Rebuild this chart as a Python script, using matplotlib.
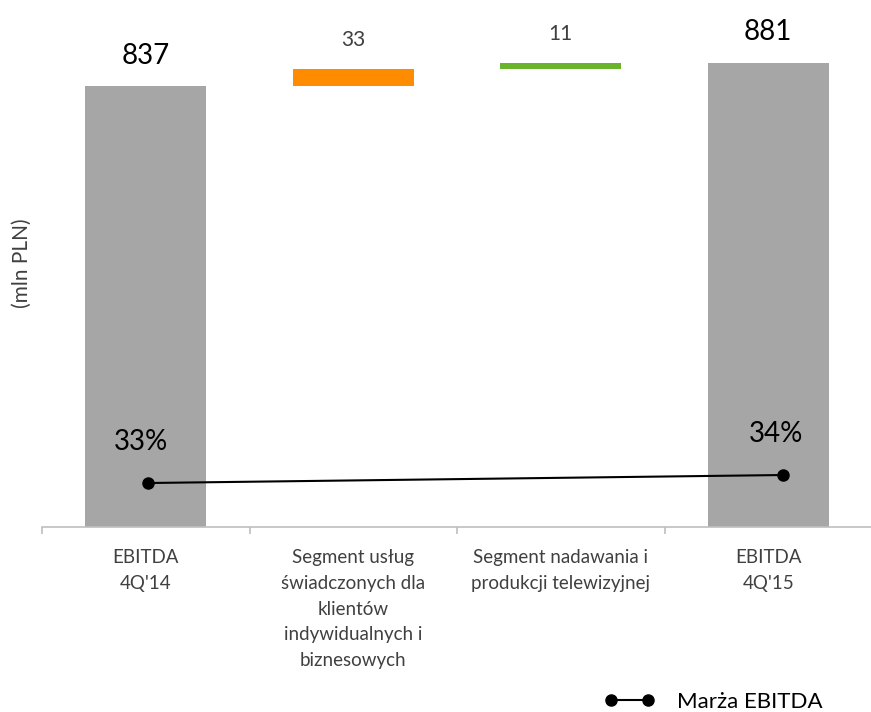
import matplotlib
matplotlib.use("Agg")
import matplotlib.pyplot as plt
import numpy as np

plt.rcParams['font.family'] = ['Lato', 'DejaVu Sans']

# EBITDA bridge, mln PLN
categories = ["EBITDA\n4Q'14",
              "Segment usług\nświadczonych dla\nklientów\nindywidualnych i\nbiznesowych",
              "Segment nadawania i\nprodukcji telewizyjnej",
              "EBITDA\n4Q'15"]
start_value = 837
deltas = [33, 11]
end_value = 881
margin_labels = ["33%", "34%"]
margin_values = [0.33, 0.34]

gray = "#a6a6a6"
orange = "#ff8c00"
green = "#6ab42d"
text_gray = "#404040"

fig = plt.figure(figsize=(8.71, 7.12), dpi=100)
rect = [42 / 871, 185 / 712, 830 / 871, 527 / 712]
ax = fig.add_axes(rect)

x = np.arange(len(categories))
heights = [start_value] + deltas + [end_value]
bottoms = [0] + list(start_value + np.cumsum([0] + deltas[:-1])) + [0]
colors = [gray, orange, green, gray]
bars = ax.bar(x, heights, bottom=bottoms, width=0.585, color=colors, zorder=2)

# value labels above each bar
for i, (h, b) in enumerate(zip(heights, bottoms)):
    total = i in (0, len(heights) - 1)
    ax.annotate(f"{h}", (x[i], b + h), xytext=(0, 16), textcoords="offset points",
                ha="center", va="baseline",
                fontsize=20 if total else 15,
                color="black" if total else text_gray)

ax.set_xlim(-0.5, len(categories) - 0.5)
ax.set_ylim(0, 1000)
ax.set_yticks([])
for s in ("left", "right", "top"):
    ax.spines[s].set_visible(False)
ax.spines["bottom"].set_color("#bfbfbf")
ax.spines["bottom"].set_linewidth(1.2)

ax.set_xticks(x)
ax.set_xticklabels(categories, fontsize=13.5, color=text_gray, linespacing=1.62)
ax.tick_params(axis="x", which="major", length=0, pad=16)
ax.set_xticks(np.arange(-0.5, len(categories) - 0.5, 1.0), minor=True)
ax.tick_params(axis="x", which="minor", length=5, width=1.2, color="#bfbfbf")

ax.set_ylabel("(mln PLN)", fontsize=15, color=text_gray)
ax.yaxis.set_label_coords(-0.012, 0.5)

# EBITDA margin on its own overlaid axes
ax2 = fig.add_axes(rect, sharex=None)
ax2.patch.set_visible(False)
ax2.set_xlim(-0.5, 3.42)
ax2.set_ylim(0.275, 0.934)
ax2.axis("off")
mx = [0, len(categories) - 1]
line, = ax2.plot(mx, margin_values, color="black", lw=1.5, marker="o",
                 markersize=8, zorder=3, label="Marża EBITDA")
for xi, v, lab in zip(mx, margin_values, margin_labels):
    ax2.annotate(lab, (xi, v), xytext=(-5, 24), textcoords="offset points",
                 ha="center", va="baseline", fontsize=20, color="black")

fig.legend(handles=[line], loc="center left", bbox_to_anchor=(584 / 871, 1 - 702 / 712),
           frameon=False, fontsize=16, handlelength=2.3, numpoints=2,
           handletextpad=1.0)

fig.savefig("out.png", dpi=100)
